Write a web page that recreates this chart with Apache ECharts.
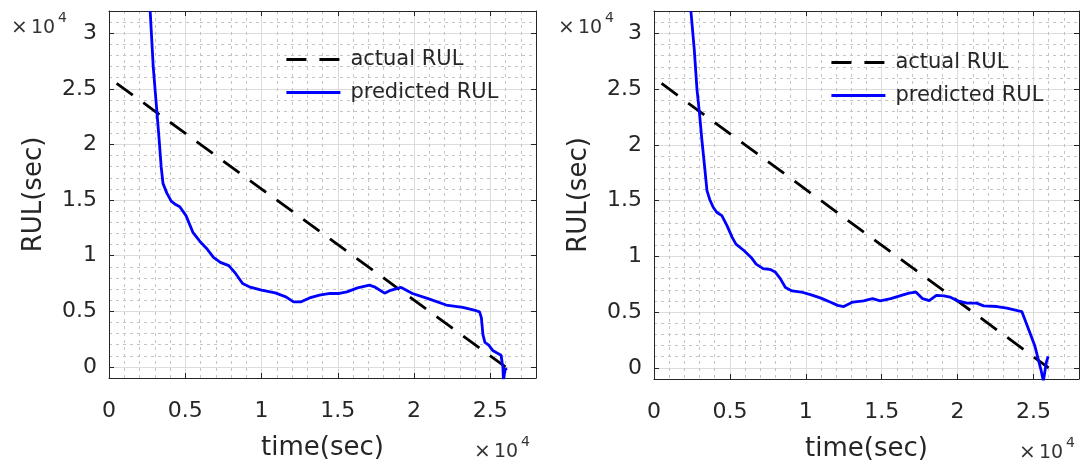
<!DOCTYPE html>
<html>
<head>
<meta charset="utf-8">
<title>RUL</title>
<script src="https://cdn.jsdelivr.net/npm/echarts@6/dist/echarts.min.js"></script>
<style>
	html, body { margin: 0; padding: 0; background: #fff; }
	#main { width: 1084px; height: 468px; }
</style>
</head>
<body>
<div id="main"></div>
<script>
// actual RUL: the same straight line in both panels
let actualTime = [500, 26000];
let actualRul = [25500, 0];

// predicted RUL, left panel
let leftTime = [2700, 2900, 3130, 3290, 3420, 3540, 3800, 4080, 4370, 4640, 5050, 5500, 5950, 6400, 6850, 7300, 7860, 8300, 8760, 9200,
	10000, 10900, 11600, 12100, 12600, 13150, 13800, 14500, 15100, 15600, 16300, 17080, 17400, 18070, 18400, 19160, 19900, 21020,
	22110, 23200, 24080, 24300, 24420, 24520, 24650, 24900, 25160, 25450, 25710, 25780, 25830, 25860, 25920, 26000, 26050];
let leftPred = [32000, 27000, 23100, 20400, 18000, 16500, 15600, 14900, 14600, 14400, 13600, 12100, 11300, 10650, 9850, 9400, 9100, 8400, 7500, 7200,
	6900, 6650, 6300, 5850, 5850, 6200, 6450, 6600, 6600, 6750, 7100, 7350, 7200, 6630, 6850, 7140, 6600, 6090,
	5560, 5350, 5050, 4950, 4400, 2900, 2200, 1950, 1480, 1250, 1050, 400, 0, -1100, -700, -100, -300];

// predicted RUL, right panel
let rightTime = [2430, 2650, 2830, 2990, 3150, 3330, 3490, 3670, 3900, 4130, 4470, 4810, 5150, 5400, 5940, 6400, 6730, 7190, 7700, 7980,
	8320, 8660, 9100, 9700, 10360, 11000, 11600, 12100, 12500, 13100, 13800, 14400, 14900, 15600, 16300, 16800, 17250, 17700,
	18130, 18600, 19110, 19500, 20000, 20630, 21250, 21720, 22600, 23250, 24230, 24440, 24770, 25100, 25320, 25500, 25650, 25750, 25850, 25970];
let rightPred = [32000, 28600, 25000, 22900, 20500, 18100, 15900, 15100, 14400, 13950, 13650, 12750, 11700, 11100, 10500, 9900, 9300, 8900, 8800, 8600,
	8000, 7200, 6900, 6800, 6550, 6250, 5900, 5600, 5500, 5900, 6000, 6200, 6000, 6200, 6500, 6700, 6800, 6200,
	6030, 6500, 6450, 6350, 6000, 5800, 5800, 5560, 5500, 5350, 5050, 4310, 3120, 1930, 740, -200, -1200, -1200, 500, 1035];

let xRange = [0, 28000];
let yRange = [-1000, 32000];
let seriesNames = ['actual RUL', 'predicted RUL'];
let axisNames = ['time(sec)', 'RUL(sec)'];
let expLabel = ['×', '10', '4'];		// axis exponent label
let tickScale = 10000;

let fontFamily = 'DejaVu Sans';
let textColor = '#262626';
let gridColor = '#dcdcdc';
let minorColor = '#c4c4c4';

let grids = [
	{left: 109, top: 11, width: 427, height: 367},
	{left: 654, top: 11, width: 425, height: 368}
];

function toPairs(xs, ys){
	let result = [];
	for(let i = 0; i < xs.length; i++){
		result.push([xs[i], ys[i]]);
	}
	return result;
}

//major tick labels only (multiples of 5000), shown as x 10^4
function tickFormatter(value){
	if (value % 5000 !== 0){
		return '';
	}
	return String(value / tickScale);
}

function mainAxis(gridIndex, isX){
	let range = isX ? xRange : yRange;
	return {
		gridIndex: gridIndex,
		type: 'value',
		min: range[0],
		max: range[1],
		position: isX ? 'bottom' : 'left',
		name: isX ? axisNames[0] : axisNames[1],
		nameLocation: 'middle',
		nameGap: isX ? 57 : 62,
		nameTextStyle: {fontFamily: fontFamily, fontSize: 26, color: textColor},
		axisLine: {show: true, onZero: false, lineStyle: {color: textColor, width: 1}},
		axisTick: {show: true, inside: true, length: 5, lineStyle: {color: textColor}},
		axisLabel: {
			formatter: tickFormatter,
			margin: isX ? 22 : 12,
			fontFamily: fontFamily,
			fontSize: 22,
			color: textColor,
			showMinLabel: true,
			showMaxLabel: true
		},
		splitLine: {show: true, lineStyle: {color: gridColor, width: 1}},
		minorTick: {show: false, splitNumber: 5},
		minorSplitLine: {show: true, lineStyle: {color: minorColor, width: 1, type: [3, 4]}}
	};
}

//box edges on the top and right side
function boxAxis(gridIndex, isX){
	let range = isX ? xRange : yRange;
	return {
		gridIndex: gridIndex,
		type: 'value',
		min: range[0],
		max: range[1],
		position: isX ? 'top' : 'right',
		axisLine: {show: true, onZero: false, lineStyle: {color: textColor, width: 1}},
		axisTick: {show: true, inside: true, length: 5, lineStyle: {color: textColor}},
		axisLabel: {show: false},
		splitLine: {show: false}
	};
}

function makeSeries(gridIndex, predTime, predVal){
	return [{
		name: seriesNames[0],
		type: 'line',
		xAxisIndex: gridIndex * 2,
		yAxisIndex: gridIndex * 2,
		data: toPairs(actualTime, actualRul),
		symbol: 'none',
		clip: true,
		lineStyle: {color: '#000000', width: 2.8, type: [20, 13]},
		itemStyle: {color: '#000000'}
	}, {
		name: seriesNames[1],
		type: 'line',
		xAxisIndex: gridIndex * 2,
		yAxisIndex: gridIndex * 2,
		data: toPairs(predTime, predVal),
		symbol: 'none',
		clip: true,
		lineStyle: {color: '#0000ff', width: 2.8},
		itemStyle: {color: '#0000ff'}
	}];
}

function makeLegend(left, top){
	return {
		orient: 'vertical',
		left: left,
		top: top,
		itemWidth: 54,
		itemHeight: 14,
		itemGap: 12,
		selectedMode: false,
		data: seriesNames,
		itemStyle: {opacity: 0},		//hide the symbol, keep the line sample
		lineStyle: {width: 2.8},
		textStyle: {fontFamily: fontFamily, fontSize: 21, color: textColor, padding: [0, 0, 0, 5]}
	};
}

//x10^4 text blocks
function expText(x, y){
	return [{
		type: 'text',
		x: x,
		y: y,
		style: {text: expLabel[0], font: '20px "DejaVu Sans"', fill: '#333', textAlign: 'left', textVerticalAlign: 'middle'}
	}, {
		type: 'text',
		x: x + 20,
		y: y,
		style: {text: expLabel[1], font: '19px "DejaVu Sans"', fill: '#333', textAlign: 'left', textVerticalAlign: 'middle'}
	}, {
		type: 'text',
		x: x + 47,
		y: y - 10,
		style: {text: expLabel[2], font: '14px "DejaVu Sans"', fill: '#333', textAlign: 'left', textVerticalAlign: 'middle'}
	}];
}

let chart = echarts.init(document.getElementById('main'), null, {renderer: 'canvas'});

let option = {
	animation: false,
	backgroundColor: '#ffffff',
	grid: grids,
	xAxis: [mainAxis(0, true), boxAxis(0, true), mainAxis(1, true), boxAxis(1, true)],
	yAxis: [mainAxis(0, false), boxAxis(0, false), mainAxis(1, false), boxAxis(1, false)],
	legend: [makeLegend(280, 44), makeLegend(825, 47)],
	series: makeSeries(0, leftTime, leftPred).concat(makeSeries(1, rightTime, rightPred)),
	graphic: [].concat(expText(11, 28), expText(558, 28), expText(474, 452), expText(1019, 453))
};

chart.setOption(option, true);
</script>
</body>
</html>
